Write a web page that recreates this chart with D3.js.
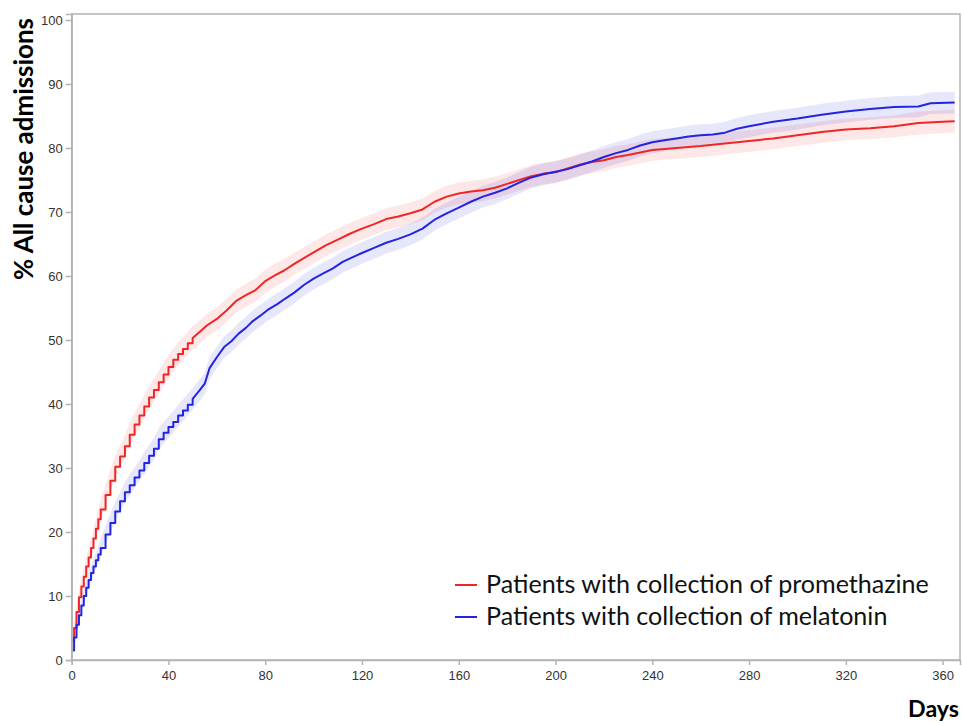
<!DOCTYPE html>
<html>
<head>
<meta charset="utf-8">
<script src="https://cdn.jsdelivr.net/npm/d3@7"></script>
<style>
  html, body { margin: 0; padding: 0; background: #fff; }
  svg { display: block; }
</style>
</head>
<body>
<svg id="chart" width="962" height="723"></svg>
<script>
// ---- data: [day, cumulative %, CI half-width] ----
const promethazine = [
  [0,3.0,0.9],[1,5.0,1.0],[2,7.5,1.1],[3,9.8,1.2],[4,11.5,1.3],[5,13.0,1.3],[6,14.6,1.4],[7,16.0,1.4],
  [8,17.5,1.5],[9,19.0,1.5],[10,20.5,1.5],[11,22.0,1.6],[12,23.5,1.6],[14,25.8,1.6],[16,28.0,1.7],
  [18,30.2,1.7],[20,31.8,1.7],[22,33.4,1.7],[24,35.2,1.8],[26,36.8,1.8],[28,38.2,1.8],[30,39.6,1.8],
  [32,41.0,1.8],[34,42.2,1.8],[36,43.4,1.8],[38,44.6,1.8],[40,45.8,1.8],[42,46.9,1.8],[44,47.8,1.8],
  [46,48.6,1.8],[48,49.5,1.8],[50,50.3,1.8],[53,51.3,1.8],[56,52.3,1.8],[60,53.3,1.8],[64,54.6,1.8],
  [68,56.1,1.8],[72,57.0,1.8],[76,57.8,1.8],[80,59.2,1.8],[84,60.1,1.8],[88,60.9,1.8],[92,61.9,1.7],
  [96,62.8,1.7],[100,63.7,1.7],[105,64.8,1.7],[110,65.7,1.7],[115,66.6,1.7],[120,67.4,1.7],
  [125,68.1,1.7],[130,68.9,1.7],[135,69.3,1.7],[140,69.8,1.7],[145,70.4,1.7],[150,71.6,1.7],
  [155,72.4,1.7],[160,72.9,1.7],[165,73.2,1.7],[170,73.4,1.7],[175,73.8,1.7],[180,74.4,1.7],
  [185,75.0,1.7],[190,75.6,1.7],[195,76.0,1.7],[200,76.2,1.7],[205,76.8,1.7],[210,77.4,1.7],
  [215,77.8,1.7],[220,78.1,1.7],[225,78.6,1.7],[230,78.9,1.7],[235,79.3,1.7],[240,79.7,1.7],
  [250,80.0,1.7],[260,80.3,1.7],[270,80.7,1.7],[280,81.1,1.7],[290,81.5,1.7],[300,82.0,1.7],
  [310,82.5,1.7],[320,82.9,1.7],[330,83.1,1.7],[340,83.4,1.7],[350,83.9,1.8],[360,84.1,1.8],[365,84.2,1.8]
];
const melatonin = [
  [0,1.5,0.7],[1,3.5,0.8],[2,5.5,0.9],[3,7.0,1.0],[4,8.5,1.0],[5,10.0,1.1],[6,11.3,1.1],[7,12.5,1.2],
  [8,13.6,1.2],[9,14.6,1.3],[10,15.6,1.3],[11,16.5,1.3],[12,17.5,1.4],[14,19.6,1.4],[16,21.4,1.5],
  [18,23.2,1.5],[20,24.8,1.5],[22,26.2,1.6],[24,27.3,1.6],[26,28.5,1.6],[28,29.6,1.6],[30,30.8,1.7],
  [32,31.9,1.7],[34,33.0,1.7],[36,34.5,1.7],[38,35.5,1.7],[40,36.4,1.7],[42,37.2,1.7],[44,38.2,1.7],
  [46,39.0,1.7],[48,39.9,1.7],[50,40.8,1.7],[53,42.2,1.7],[55,43.2,1.7],[57,45.6,1.7],[60,47.3,1.7],
  [63,48.9,1.7],[66,49.8,1.7],[69,51.0,1.7],[72,51.9,1.7],[75,53.0,1.7],[78,53.8,1.7],[81,54.7,1.7],
  [85,55.6,1.7],[88,56.4,1.7],[92,57.4,1.7],[96,58.6,1.7],[100,59.6,1.7],[104,60.4,1.7],[108,61.2,1.7],
  [112,62.2,1.7],[116,62.9,1.7],[120,63.6,1.7],[125,64.4,1.7],[130,65.2,1.7],[135,65.8,1.7],
  [140,66.5,1.7],[145,67.4,1.7],[150,68.8,1.7],[155,69.8,1.7],[160,70.7,1.7],[165,71.6,1.7],
  [170,72.4,1.7],[175,73.0,1.7],[180,73.7,1.7],[185,74.6,1.7],[190,75.4,1.7],[195,75.9,1.7],
  [200,76.3,1.7],[205,76.7,1.7],[210,77.3,1.7],[215,77.9,1.7],[220,78.6,1.7],[225,79.2,1.7],
  [230,79.7,1.7],[235,80.4,1.7],[240,80.9,1.7],[245,81.2,1.7],[250,81.5,1.7],[255,81.8,1.7],
  [260,82.0,1.7],[265,82.1,1.7],[270,82.4,1.7],[275,83.0,1.7],[280,83.4,1.7],[290,84.1,1.7],
  [300,84.6,1.7],[310,85.2,1.7],[320,85.7,1.7],[330,86.1,1.7],[340,86.4,1.7],[350,86.5,1.7],
  [355,87.0,1.7],[365,87.1,1.7]
];
const xTicks = [0,40,80,120,160,200,240,280,320,360];
const yTicks = [0,10,20,30,40,50,60,70,80,90,100];
const seriesNames = ["Patients with collection of promethazine", "Patients with collection of melatonin"];
const seriesColors = ["#f02626", "#2424e0"];
const xTitle = "Days";
const yTitle = "% All cause admissions";
const stepUntilDay = 50; // visible steps in the early part of the curves

// ---- layout ----
const svg = d3.select("#chart");
const x = d3.scaleLinear().domain([0, 367.2]).range([71.7, 960]);
const y = d3.scaleLinear().domain([0, 100.94]).range([660, 14]);
const axisColor = "#b4b4b4";

svg.append("defs").append("clipPath").attr("id", "clip")
  .append("rect").attr("x", x.range()[0]).attr("y", y.range()[1])
  .attr("width", x.range()[1] - x.range()[0]).attr("height", y.range()[0] - y.range()[1]);

// frame
svg.append("rect")
  .attr("x", x.range()[0]).attr("y", y.range()[1])
  .attr("width", x.range()[1] - x.range()[0]).attr("height", y.range()[0] - y.range()[1])
  .attr("fill", "none").attr("stroke", axisColor).attr("stroke-width", 1.5);

const series = [promethazine, melatonin];
const plot = svg.append("g").attr("clip-path", "url(#clip)");

const band = d3.area().curve(d3.curveLinear)
  .x(d => x(d[0])).y0(d => y(d[1] - d[2])).y1(d => y(d[1] + d[2]));
const stepLine = d3.line().curve(d3.curveStepAfter).x(d => x(d[0])).y(d => y(d[1]));
const linLine = d3.line().curve(d3.curveLinear).x(d => x(d[0])).y(d => y(d[1]));

series.forEach((s, i) => {
  plot.append("path").datum(s).attr("d", band)
    .attr("fill", seriesColors[i]).attr("fill-opacity", 0.11).attr("stroke", "none");
});
series.forEach((s, i) => {
  const early = s.filter(d => d[0] <= stepUntilDay);
  const late = s.filter(d => d[0] >= stepUntilDay);
  const d = stepLine(early) + linLine(late).replace(/^M/, "L");
  plot.append("path").attr("d", d)
    .attr("fill", "none").attr("stroke", seriesColors[i]).attr("stroke-width", 2)
    .attr("stroke-linejoin", "round");
});

// axes
const xAxis = svg.append("g").attr("transform", `translate(0,${y.range()[0]})`)
  .call(d3.axisBottom(x).tickValues(xTicks).tickSize(5).tickPadding(6).tickFormat(d3.format("d")));
const yAxis = svg.append("g").attr("transform", `translate(${x.range()[0]},0)`)
  .call(d3.axisLeft(y).tickValues(yTicks).tickSize(6).tickPadding(3).tickFormat(d3.format("d")));
[xAxis, yAxis].forEach(a => {
  a.select(".domain").attr("stroke", axisColor).attr("stroke-width", 1.5);
  a.selectAll(".tick line").attr("stroke", axisColor).attr("stroke-width", 1.5);
  a.selectAll(".tick text").attr("fill", "#333").style("font-family", "Liberation Sans, Arial, sans-serif").style("font-size", "13px");
});

function fit(sel, target) {
  const w = sel.node().getComputedTextLength();
  const fs = parseFloat(sel.style("font-size"));
  sel.style("font-size", (fs * target / w) + "px");
}

// titles
const yt = svg.append("text").text(yTitle)
  .attr("transform", "translate(33,149) rotate(-90)")
  .attr("text-anchor", "middle")
  .style("font-family", "Lato, 'Open Sans', sans-serif").style("font-weight", "bold")
  .style("font-size", "22px").attr("fill", "#000");
fit(yt, 262);

const xt = svg.append("text").text(xTitle)
  .attr("x", 959).attr("y", 717).attr("text-anchor", "end")
  .style("font-family", "Lato, 'Open Sans', sans-serif").style("font-weight", "bold")
  .style("font-size", "22px").attr("fill", "#000");
fit(xt, 51);

// legend
const legend = svg.append("g");
const legY = [585, 617];
seriesNames.forEach((name, i) => {
  legend.append("line").attr("x1", 455).attr("x2", 477).attr("y1", legY[i]).attr("y2", legY[i])
    .attr("stroke", seriesColors[i]).attr("stroke-width", 2);
});
const lt0 = legend.append("text").text(seriesNames[0]).attr("x", 486).attr("y", legY[0] + 8)
  .style("font-family", "Lato, 'Open Sans', sans-serif").style("font-size", "22px").attr("fill", "#111");
fit(lt0, 443);
const fsLeg = lt0.style("font-size");
legend.append("text").text(seriesNames[1]).attr("x", 486).attr("y", legY[1] + 8)
  .style("font-family", "Lato, 'Open Sans', sans-serif").style("font-size", fsLeg).attr("fill", "#111");
</script>
</body>
</html>
